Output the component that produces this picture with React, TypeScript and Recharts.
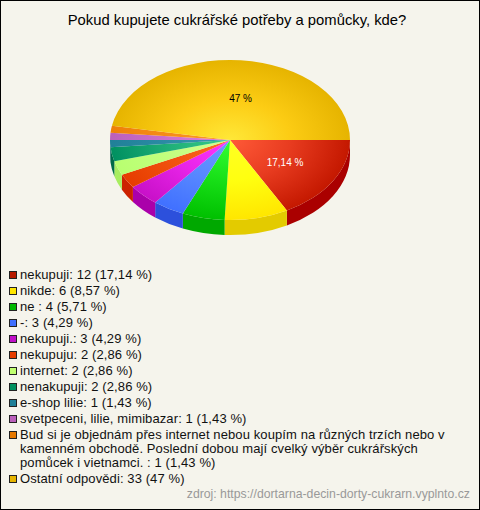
import React from 'react';
import { PieChart, Pie } from 'recharts';

const labels = [
  'nekupuji: 12 (17,14 %)',
  'nikde: 6 (8,57 %)',
  'ne : 4 (5,71 %)',
  '-: 3 (4,29 %)',
  'nekupuji.: 3 (4,29 %)',
  'nekupuju: 2 (2,86 %)',
  'internet: 2 (2,86 %)',
  'nenakupuji: 2 (2,86 %)',
  'e-shop lilie: 1 (1,43 %)',
  'svetpeceni, lilie, mimibazar: 1 (1,43 %)',
  'Bud si je objednám přes internet nebou koupím na různých trzích nebo v kamenném obchodě. Poslední dobou mají cvelký výběr cukrářských pomůcek i vietnamci. : 1 (1,43 %)',
  'Ostatní odpovědi: 33 (47 %)',
];
const counts = [12, 6, 4, 3, 3, 2, 2, 2, 1, 1, 1, 33];
const sliceLabels = ['17,14 %', '', '', '', '', '', '', '', '', '', '', '47 %'];

const innerColors = ['#ff5a38', '#ffff24', '#33ff33', '#6a9cff', '#ff38ff', '#ff6a24', '#d0ff90', '#38cc88', '#3a9ab0', '#dd80dd', '#ff9c28', '#ffe838'];
const midColors = ['#e83c20', '#ffff10', '#18e018', '#5888ff', '#e824e8', '#f25410', '#c4ff80', '#20b078', '#2c8ca4', '#cc70cc', '#f68c18', '#fccc14'];
const rimColors = ['#c41800', '#ffe600', '#00c000', '#4070ff', '#c810c8', '#e63c00', '#b8ff70', '#009060', '#208098', '#bb60bb', '#ee8008', '#e6b400'];
const wallColors = ['#aa0000', '#e3cb00', '#00a800', '#2c50dc', '#aa00aa', '#cc2200', '#a8ee60', '#006a48', '#106070', '#994a99', '#c06000', '#c09000'];
const legendColors = ['#b81a00', '#ffe600', '#00b800', '#4070ff', '#c010c8', '#e63c00', '#c0ff70', '#009060', '#208098', '#bb60bb', '#e67800', '#e6b400'];

const chartData = labels.map((name, i) => ({ name, value: counts[i], text: sliceLabels[i], idx: i }));

const RX = 120;
const RY = 80;
const DEPTH = 15;

const px = (cx: number, deg: number) => cx + RX * Math.cos((-deg * Math.PI) / 180);
const py = (cy: number, deg: number) => cy + RY * Math.sin((-deg * Math.PI) / 180);

// recharts hands over a circular sector, it is squashed into an ellipse here
const Slice3D = (props: any) => {
  const { cx, cy, startAngle, endAngle, payload, index } = props;
  const i = payload?.idx ?? index;
  const hi = Math.max(startAngle, endAngle);
  const lo = Math.min(startAngle, endAngle);
  const large = hi - lo > 180 ? 1 : 0;
  const top = `M${cx},${cy} L${px(cx, hi)},${py(cy, hi)} A${RX},${RY} 0 ${large} 1 ${px(cx, lo)},${py(cy, lo)} Z`;

  // only the front half of the rim shows a wall (recharts angles 0..-180)
  const wallHi = Math.min(hi, 0);
  const wallLo = Math.max(lo, -180);
  let wall = null;
  if (wallHi > wallLo) {
    const x1 = px(cx, wallHi);
    const y1 = py(cy, wallHi);
    const x2 = px(cx, wallLo);
    const y2 = py(cy, wallLo);
    const d = `M${x1},${y1} A${RX},${RY} 0 0 1 ${x2},${y2} L${x2},${y2 + DEPTH} A${RX},${RY} 0 0 0 ${x1},${y1 + DEPTH} Z`;
    wall = <path d={d} fill={wallColors[i]} />;
  }
  return (
    <g>
      {wall}
      <path d={top} fill={`url(#slice-${i})`} />
    </g>
  );
};

const renderLabel = (props: any) => {
  const { cx, cy, midAngle, payload } = props;
  if (!payload?.text) return null;
  const rad = (-midAngle * Math.PI) / 180;
  const isRed = payload.idx === 0;
  const x = cx + RX * 0.52 * Math.cos(rad) + (isRed ? 1.5 : 5);
  const y = cy + RY * 0.52 * Math.sin(rad) + (isRed ? 1 : 0);
  return (
    <text x={x} y={y} textAnchor="middle" dominantBaseline="central" fontSize={10} fontFamily="Liberation Sans" fill={isRed ? '#ffffff' : '#000000'}>
      {payload.text}
    </text>
  );
};

const LegendList = () => (
  <div style={{ position: 'absolute', left: 8, top: 267, width: 442, fontFamily: 'Liberation Sans', fontSize: 13, letterSpacing: 0.1, lineHeight: '14px', color: '#111' }}>
    {labels.map((name, i) => (
      <div key={i} style={{ display: 'flex', alignItems: 'flex-start', marginBottom: 2 }}>
        <span style={{ flex: 'none', width: 6, height: 6, margin: '3px 3px 0 0', background: legendColors[i], border: '1px solid #222' }} />
        <span>{name}</span>
      </div>
    ))}
  </div>
);

export default function App() {
  return (
    <div style={{ position: 'relative', width: 478, height: 508, border: '1px solid #000', background: '#f5f4ec' }}>
      <style>{'body{margin:0}'}</style>
      <PieChart width={478} height={508} margin={{ top: 0, right: 0, bottom: 0, left: 0 }}>
        <defs>
          {labels.map((_, i) => (
            <radialGradient key={i} id={`slice-${i}`} gradientUnits="userSpaceOnUse" cx={0} cy={0} r={1} gradientTransform={`translate(229 139) scale(${RX} ${RY})`}>
              <stop offset="0%" stopColor={innerColors[i]} />
              <stop offset="50%" stopColor={midColors[i]} />
              <stop offset="100%" stopColor={rimColors[i]} />
            </radialGradient>
          ))}
        </defs>
        <text x={236} y={19} textAnchor="middle" dominantBaseline="central" fontSize={14.8} fontFamily="Liberation Sans" fill="#000">
          Pokud kupujete cukrářské potřeby a pomůcky, kde?
        </text>
        <Pie
          data={chartData}
          dataKey="value"
          nameKey="name"
          cx={229}
          cy={139}
          outerRadius={RX}
          startAngle={0}
          endAngle={-360}
          paddingAngle={0}
          stroke="none"
          shape={Slice3D}
          label={renderLabel}
          labelLine={false}
          isAnimationActive={false}
        />
        <text x={469} y={497} textAnchor="end" fontSize={12.25} fontFamily="Liberation Sans" fill="#999">
          zdroj: https://dortarna-decin-dorty-cukrarn.vyplnto.cz
        </text>
      </PieChart>
      <LegendList />
    </div>
  );
}
